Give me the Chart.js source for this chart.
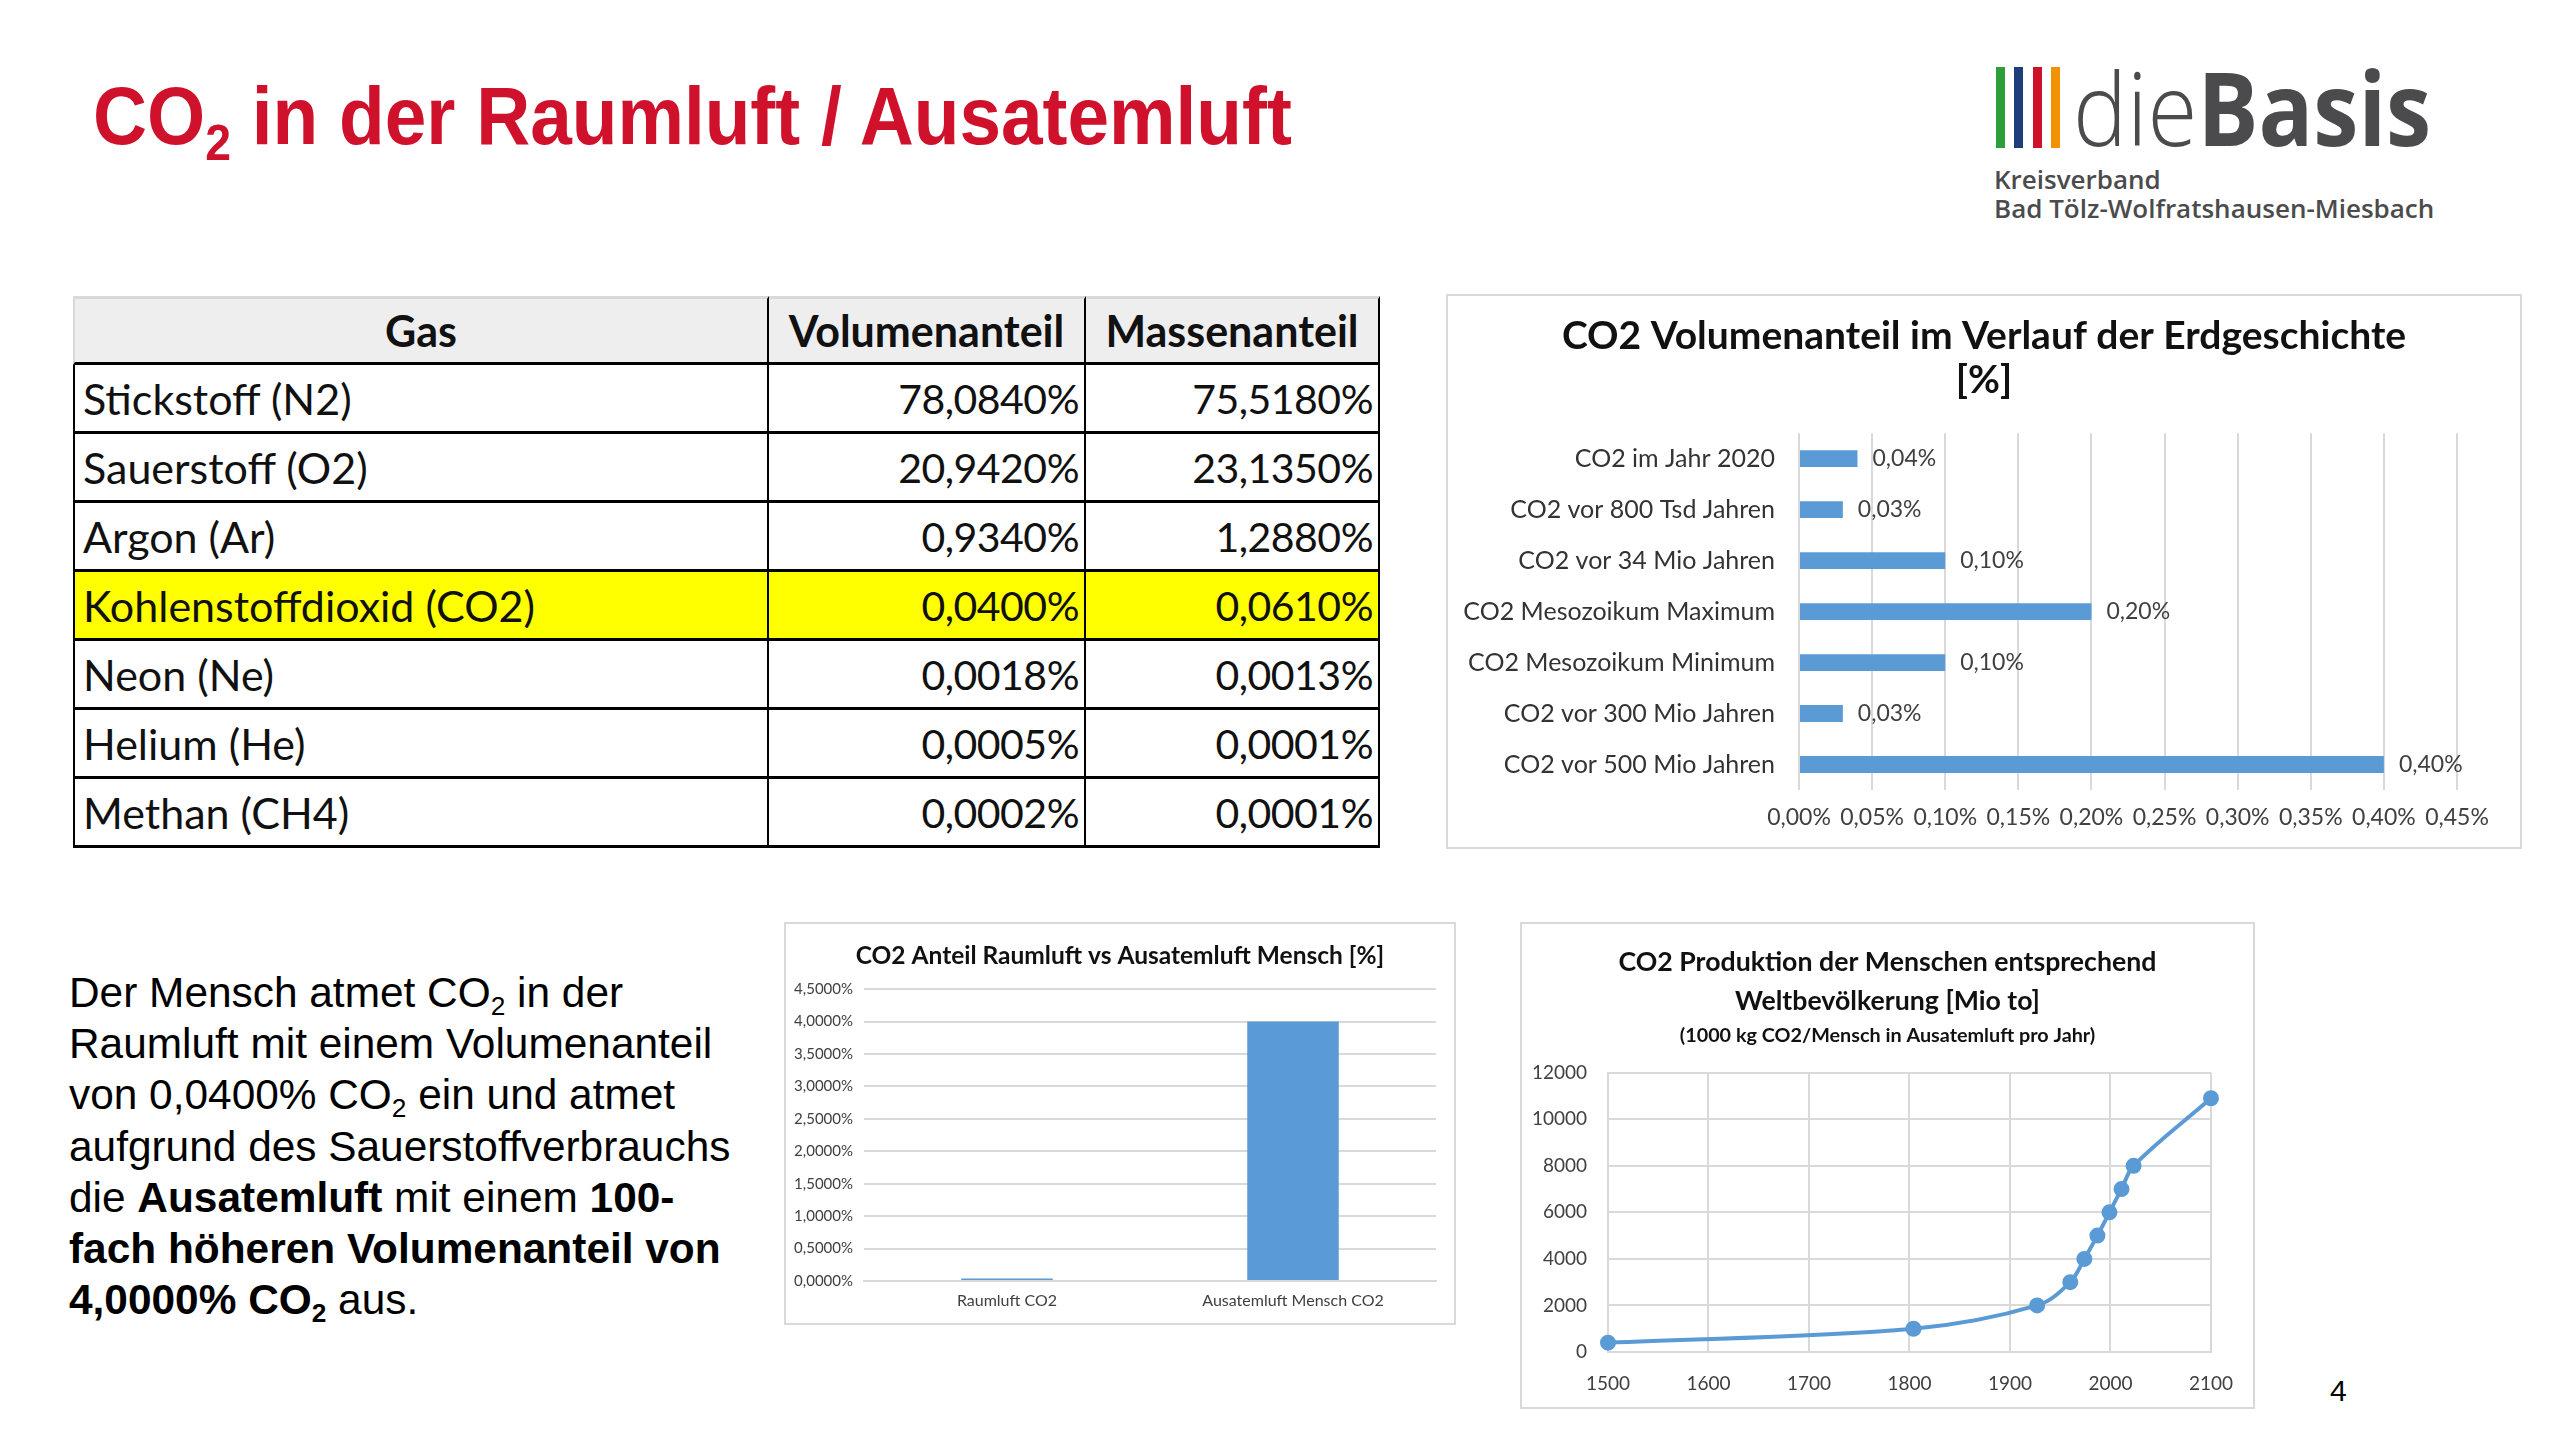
<!DOCTYPE html>
<html lang="de">
<head>
<meta charset="utf-8">
<title>CO2 in der Raumluft / Ausatemluft</title>
<script src="https://cdn.jsdelivr.net/npm/chart.js@4.4.1/dist/chart.umd.min.js"></script>
<style>
  html, body { margin: 0; padding: 0; background: #fff; }
  body { width: 2560px; height: 1439px; position: relative; overflow: hidden; font-family: "Liberation Sans", Arial, sans-serif; }
  .abs { position: absolute; }
  sub { font-size: 0.62em; vertical-align: -0.32em; line-height: 0; }

  #titel { left: 93px; top: 75px; font-size: 82px; line-height: 1; font-weight: bold; color: #d0112b; white-space: nowrap;
           transform: scaleX(0.912); transform-origin: 0 0; }

  .balken { position: absolute; top: 67px; width: 9px; height: 81px; }
  #logoText { left: 2073px; top: 46px; font-family: "Open Sans", sans-serif; font-size: 102px; line-height: 1.2; color: #4b4b4d; white-space: nowrap;
              transform: scaleX(0.89); transform-origin: 0 0; }
  #logoText .die { font-weight: 300; }
  #logoText .basis { font-weight: 700; }
  #logoSub { left: 1994px; top: 165px; font-family: "Open Sans", sans-serif; font-size: 26px; line-height: 29.4px; font-weight: 600; color: #4b4b4d; white-space: nowrap; }

  #tabelle { left: 73px; top: 296px; display: grid; grid-template-columns: 696px 317px 294px; grid-auto-rows: 69px;
             font-family: Lato, sans-serif; font-size: 43px; color: #111; }
  #tabelle div { box-sizing: border-box; display: flex; align-items: center; padding: 0 8px; border-bottom: 3px solid #000; border-right: 2px solid #000; white-space: nowrap; }
  #tabelle div.k { justify-content: center; font-weight: bold; background: #eeeeee; border-top: 3px solid #d9d9d9; }
  #tabelle div.erste { border-left: 2px solid #000; }
  #tabelle div.k.erste { border-left: 2px solid #d9d9d9; }
  #tabelle div.z { justify-content: flex-end; padding-right: 5px; font-size: 41px; letter-spacing: -0.5px; }
  #tabelle div.gelb { background: #ffff00; }

  #text { left: 69px; top: 967px; font-size: 42.4px; line-height: 51.2px; color: #000; white-space: nowrap; }

  .box { position: absolute; border: 2px solid #d9d9d9; background: #fff; }
  .box canvas { display: block; }

  #seite { left: 2330px; top: 1374px; font-size: 30px; color: #000; }
</style>
</head>
<body>

<div id="titel" class="abs">CO<sub>2</sub> in der Raumluft / Ausatemluft</div>

<div class="balken" style="left:1996px;background:#2e9e3a"></div>
<div class="balken" style="left:2014px;background:#1d3e7a"></div>
<div class="balken" style="left:2033px;background:#d0112b"></div>
<div class="balken" style="left:2051px;background:#f39200"></div>
<div id="logoText" class="abs"><span class="die">die</span><span class="basis">Basis</span></div>
<div id="logoSub" class="abs">Kreisverband<br>Bad Tölz-Wolfratshausen-Miesbach</div>

<div id="tabelle" class="abs"></div>

<div id="text" class="abs">Der Mensch atmet CO<sub>2</sub> in der<br>Raumluft mit einem Volumenanteil<br>von 0,0400% CO<sub>2</sub> ein und atmet<br>aufgrund des Sauerstoffverbrauchs<br>die <b>Ausatemluft</b> mit einem <b>100-</b><br><b>fach höheren Volumenanteil von</b><br><b>4,0000% CO<sub>2</sub></b> aus.</div>

<div class="box" style="left:1446px;top:294px;width:1072px;height:551px"><canvas id="erdChart" width="1072" height="551"></canvas></div>
<div class="box" style="left:784px;top:922px;width:668px;height:399px"><canvas id="raumChart" width="668" height="399"></canvas></div>
<div class="box" style="left:1520px;top:922px;width:731px;height:483px"><canvas id="prodChart" width="731" height="483"></canvas></div>

<div id="seite" class="abs">4</div>

<script>
// Tabelle: Zusammensetzung der Luft
const gase = ['Stickstoff (N2)', 'Sauerstoff (O2)', 'Argon (Ar)', 'Kohlenstoffdioxid (CO2)', 'Neon (Ne)', 'Helium (He)', 'Methan (CH4)'];
const volumenanteil = ['78,0840%', '20,9420%', '0,9340%', '0,0400%', '0,0018%', '0,0005%', '0,0002%'];
const massenanteil = ['75,5180%', '23,1350%', '1,2880%', '0,0610%', '0,0013%', '0,0001%', '0,0001%'];
const spalten = ['Gas', 'Volumenanteil', 'Massenanteil'];

// Chart 1: CO2 Volumenanteil im Verlauf der Erdgeschichte
const erdKategorien = ['CO2 im Jahr 2020', 'CO2 vor 800 Tsd Jahren', 'CO2 vor 34 Mio Jahren', 'CO2 Mesozoikum Maximum', 'CO2 Mesozoikum Minimum', 'CO2 vor 300 Mio Jahren', 'CO2 vor 500 Mio Jahren'];
const erdWerte = [0.04, 0.03, 0.10, 0.20, 0.10, 0.03, 0.40];
const erdAchseMax = 0.45, erdAchseSchritt = 0.05;

// Chart 2: CO2 Anteil Raumluft vs Ausatemluft
const raumKategorien = ['Raumluft CO2', 'Ausatemluft Mensch CO2'];
const raumWerte = [0.04, 4.0];
const raumAchseMax = 4.5, raumAchseSchritt = 0.5;

// Chart 3: CO2 Produktion nach Weltbevoelkerung [Mio t]
const jahre = [1500, 1804, 1927, 1960, 1974, 1987, 1999, 2011, 2023, 2100];
const produktion = [400, 1000, 2000, 3000, 4000, 5000, 6000, 7000, 8000, 10900];
const jahrMin = 1500, jahrMax = 2100, jahrSchritt = 100;
const prodMax = 12000, prodSchritt = 2000;

// Tabelle aufbauen
const tab = document.getElementById('tabelle');
spalten.forEach((s, i) => {
  const d = document.createElement('div');
  d.className = 'k' + (i === 0 ? ' erste' : '');
  d.textContent = s;
  tab.appendChild(d);
});
gase.forEach((g, i) => {
  const gelb = g.indexOf('CO2') >= 0 ? ' gelb' : '';
  [g, volumenanteil[i], massenanteil[i]].forEach((t, j) => {
    const d = document.createElement('div');
    d.className = (j === 0 ? 'erste' : 'z') + gelb;
    d.textContent = t;
    tab.appendChild(d);
  });
});

const schrift = 'Lato, sans-serif';
const blau = '#5b9bd5';
const gitter = '#d9d9d9';
const achsText = '#404040';

Chart.defaults.font.family = schrift;
Chart.defaults.color = achsText;
Chart.defaults.animation = false;

function prozent(v, stellen) {
  return v.toFixed(stellen).replace('.', ',') + '%';
}

// leere Achse rechts, damit der Titel ueber der ganzen Box zentriert bleibt
function randRechts(breite) {
  return {
    type: 'linear', position: 'right', display: true,
    ticks: { display: false }, grid: { display: false, drawTicks: false }, border: { display: false },
    afterFit: s => { s.width = breite; }
  };
}

// Werte neben die Balken schreiben
const wertLabels = {
  id: 'wertLabels',
  afterDatasetsDraw(chart, args, opts) {
    const ctx = chart.ctx;
    const meta = chart.getDatasetMeta(0);
    ctx.save();
    ctx.font = opts.size + 'px ' + schrift;
    ctx.fillStyle = achsText;
    ctx.textBaseline = 'middle';
    meta.data.forEach((bar, i) => {
      ctx.fillText(prozent(chart.data.datasets[0].data[i], 2), bar.x + opts.abstand, bar.y);
    });
    ctx.restore();
  }
};

new Chart(document.getElementById('erdChart'), {
  type: 'bar',
  data: {
    labels: erdKategorien,
    datasets: [{ data: erdWerte, backgroundColor: blau, categoryPercentage: 1, barPercentage: 0.33 }]
  },
  plugins: [wertLabels],
  options: {
    indexAxis: 'y',
    responsive: false,
    devicePixelRatio: 1,
    plugins: {
      legend: { display: false },
      tooltip: { enabled: false },
      title: {
        display: true,
        text: ['CO2 Volumenanteil im Verlauf der Erdgeschichte', '[%]'],
        color: '#111',
        font: { size: 39, weight: 'bold', lineHeight: 1.13 },
        padding: { top: 18, bottom: 31 }
      },
      wertLabels: { size: 23, abstand: 15 }
    },
    scales: {
      x: {
        min: 0, max: erdAchseMax,
        ticks: { stepSize: erdAchseSchritt, padding: 14, maxRotation: 0, autoSkip: false, font: { size: 23 }, callback: v => prozent(v, 2) },
        grid: { color: gitter, lineWidth: 2, drawTicks: false },
        border: { display: false },
        afterFit: s => { s.height = 57; }
      },
      y: {
        ticks: { padding: 24, font: { size: 25 }, color: '#333' },
        grid: { display: false, drawTicks: false },
        border: { display: false },
        afterFit: s => { s.width = 351; }
      },
      rechts: randRechts(63)
    }
  }
});

new Chart(document.getElementById('raumChart'), {
  type: 'bar',
  data: {
    labels: raumKategorien,
    datasets: [{ data: raumWerte, backgroundColor: blau, categoryPercentage: 1, barPercentage: 0.32 }]
  },
  options: {
    responsive: false,
    devicePixelRatio: 1,
    plugins: {
      legend: { display: false },
      tooltip: { enabled: false },
      title: {
        display: true,
        text: 'CO2 Anteil Raumluft vs Ausatemluft Mensch [%]',
        color: '#111',
        font: { size: 24.5, weight: 'bold', lineHeight: 1.15 },
        padding: { top: 18, bottom: 19 }
      }
    },
    scales: {
      x: {
        ticks: { padding: 10, maxRotation: 0, font: { size: 16 } },
        grid: { display: false, drawTicks: false },
        border: { color: gitter, width: 2 },
        afterFit: s => { s.height = 42; }
      },
      y: {
        min: 0, max: raumAchseMax,
        ticks: { stepSize: raumAchseSchritt, padding: 11, font: { size: 15 }, callback: v => prozent(v, 4) },
        grid: { color: gitter, lineWidth: 2, drawTicks: false },
        border: { display: false },
        afterFit: s => { s.width = 78; }
      },
      rechts: randRechts(18)
    }
  }
});

new Chart(document.getElementById('prodChart'), {
  type: 'line',
  data: {
    datasets: [{
      data: jahre.map((j, i) => ({ x: j, y: produktion[i] })),
      borderColor: blau,
      backgroundColor: blau,
      borderWidth: 4,
      pointRadius: 6,
      pointBackgroundColor: blau,
      tension: 0.35,
      clip: false
    }]
  },
  options: {
    responsive: false,
    devicePixelRatio: 1,
    plugins: {
      legend: { display: false },
      tooltip: { enabled: false },
      title: {
        display: true,
        text: ['CO2 Produktion der Menschen entsprechend', 'Weltbevölkerung [Mio to]'],
        color: '#111',
        font: { size: 26.7, weight: 'bold', lineHeight: 1.46 },
        padding: { top: 19, bottom: 0 }
      },
      subtitle: {
        display: true,
        text: '(1000 kg CO2/Mensch in Ausatemluft pro Jahr)',
        color: '#111',
        font: { size: 19.8, weight: 'bold', lineHeight: 1.45 },
        padding: { top: 0, bottom: 23 }
      }
    },
    scales: {
      x: {
        type: 'linear',
        min: jahrMin, max: jahrMax,
        ticks: { stepSize: jahrSchritt, padding: 20, maxRotation: 0, font: { size: 19 }, callback: v => String(v) },
        grid: { color: gitter, lineWidth: 2, drawTicks: false },
        border: { color: gitter, width: 2 },
        afterFit: s => { s.height = 55; }
      },
      y: {
        min: 0, max: prodMax,
        ticks: { stepSize: prodSchritt, padding: 21, font: { size: 19 }, callback: v => String(v) },
        grid: { color: gitter, lineWidth: 2, drawTicks: false },
        border: { color: gitter, width: 2 },
        afterFit: s => { s.width = 86; }
      },
      rechts: randRechts(42)
    }
  }
});
</script>
</body>
</html>
